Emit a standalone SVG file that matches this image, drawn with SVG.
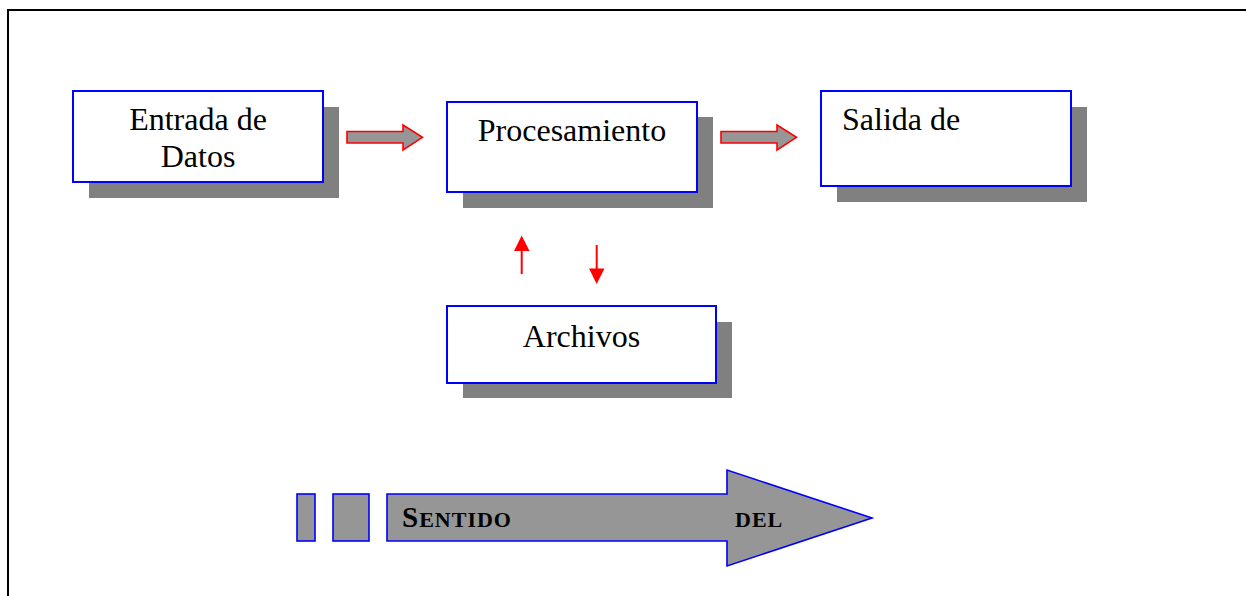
<svg xmlns="http://www.w3.org/2000/svg" width="1246" height="596" viewBox="0 0 1246 596">
<style>
.shadow{fill:#808080}
.box{fill:#fff;stroke:#0000ff;stroke-width:2}
.lbl{font-family:"Liberation Serif","Times New Roman",serif;font-size:32px;fill:#000}
.blk{fill:#969696;stroke:#ff0000;stroke-width:1.6;stroke-linejoin:miter}
.vline{stroke:#ff0000;stroke-width:2;fill:none}
.vhead{fill:#ff0000}
.big{fill:#969696;stroke:#0000ff;stroke-width:1.6}
.bl{font-family:"Liberation Serif","Times New Roman",serif;font-weight:bold;fill:#000;letter-spacing:1px}
</style>
<rect width="1246" height="596" fill="#fff"/>
<path d="M8,600 V10 H1250" fill="none" stroke="#000" stroke-width="2"/>
<g id="entrada">
<rect class="shadow" x="89" y="107" width="250" height="91"/>
<rect class="box" x="73" y="91" width="250" height="91"/>
<text class="lbl" x="198" y="130" text-anchor="middle">Entrada de</text>
<text class="lbl" x="198" y="167" text-anchor="middle">Datos</text>
</g>
<g id="procesamiento">
<rect class="shadow" x="463" y="117" width="250" height="91"/>
<rect class="box" x="447" y="102" width="250" height="90"/>
<text class="lbl" x="572" y="141" text-anchor="middle">Procesamiento</text>
</g>
<g id="salida">
<rect class="shadow" x="837" y="107" width="250" height="95"/>
<rect class="box" x="821" y="91" width="250" height="95"/>
<text class="lbl" x="842" y="130">Salida de</text>
</g>
<g id="archivos">
<rect class="shadow" x="463" y="322" width="269" height="76"/>
<rect class="box" x="447" y="306" width="269" height="77"/>
<text class="lbl" x="581.5" y="347" text-anchor="middle">Archivos</text>
</g>
<g id="connectors">
<path class="blk" d="M347,131.5 H403 V125 L422.5,137.3 L403,150 V143 H347 Z"/>
<path class="blk" d="M721,131.5 H777 V125 L796.5,137.3 L777,150 V143 H721 Z"/>
<line class="vline" x1="521.7" y1="274" x2="521.7" y2="250"/>
<path class="vhead" d="M521.7,235.5 L529.5,251 L514,251 Z"/>
<line class="vline" x1="596.7" y1="245" x2="596.7" y2="269"/>
<path class="vhead" d="M596.7,284 L604.5,268.5 L589,268.5 Z"/>
</g>
<g id="sentido">
<rect class="big" x="297" y="494" width="18" height="47"/>
<rect class="big" x="333" y="494" width="36" height="47"/>
<path class="big" d="M387,494 H727 V470 L872,518 L727,566 V541 H387 Z"/>
<text class="bl" x="402" y="527"><tspan font-size="29">S</tspan><tspan font-size="22">ENTIDO</tspan></text>
<text class="bl" x="735" y="527" font-size="22">DEL</text>
</g>
</svg>
